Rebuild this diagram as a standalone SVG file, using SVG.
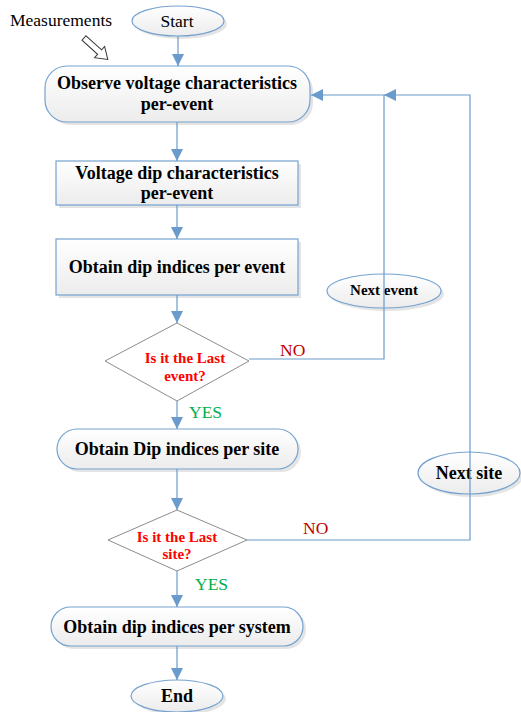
<svg xmlns="http://www.w3.org/2000/svg" width="521" height="712" viewBox="0 0 521 712">
<defs>
<linearGradient id="g" x1="0" y1="0" x2="0" y2="1">
<stop offset="0" stop-color="#ffffff"/>
<stop offset="1" stop-color="#ececec"/>
</linearGradient>
<marker id="ah" viewBox="0 0 12 12" refX="12" refY="6" markerWidth="12" markerHeight="12" markerUnits="userSpaceOnUse" orient="auto">
<path d="M0,0 L12,6 L0,12 Z" fill="#6a9bcc"/>
</marker>
<style>
.sh{fill:#d9d9d9;opacity:0.7}
.nd{fill:url(#g);stroke:#74a2d0;stroke-width:1.2}
.dm{fill:#ffffff;stroke:#8c8c8c;stroke-width:1}
.t{font-family:"Liberation Serif",serif;font-weight:bold;font-size:18px;fill:#000;text-anchor:middle}
.r{font-family:"Liberation Serif",serif;font-weight:bold;font-size:15px;fill:#ff0000;text-anchor:middle}
.no{font-family:"Liberation Serif",serif;font-size:17.5px;fill:#c00000}
.yes{font-family:"Liberation Serif",serif;font-size:17.5px;fill:#00b050}
.c{fill:none;stroke:#6a9bcc;stroke-width:1.2}
</style>
</defs>
<rect width="521" height="712" fill="#ffffff"/>

<g id="measurements">
<text x="10" y="26" style="font-family:'Liberation Serif',serif;font-size:17.5px;fill:#000">Measurements</text>
<polygon points="0,-3 21,-3 21,-7.5 32,0 21,7.5 21,3 0,3" transform="translate(84,38) rotate(42)" fill="#ffffff" stroke="#333" stroke-width="1"/>
</g>

<g id="start">
<ellipse cx="181" cy="24" rx="46" ry="15" class="sh"/>
<ellipse cx="178" cy="21" rx="46" ry="15" class="nd"/>
<text x="177" y="27" class="t" style="font-weight:normal;font-size:17.5px">Start</text>
</g>

<g id="observe">
<rect x="48" y="69" width="265" height="56" rx="22" class="sh"/>
<rect x="45" y="66" width="265" height="56" rx="22" class="nd"/>
<text x="177" y="89" class="t">Observe voltage characteristics</text>
<text x="177" y="110" class="t">per-event</text>
</g>

<g id="dipchar">
<rect x="59" y="164" width="242" height="44" class="sh"/>
<rect x="56" y="161" width="242" height="44" class="nd"/>
<text x="177" y="179" class="t">Voltage dip characteristics</text>
<text x="177" y="199" class="t">per-event</text>
</g>

<g id="dipevent">
<rect x="59" y="242" width="242" height="56" class="sh"/>
<rect x="56" y="239" width="242" height="56" class="nd"/>
<text x="177" y="273" class="t">Obtain dip indices per event</text>
</g>

<g id="lastevent">
<polygon points="177,323 249,361 177,401 105,361" class="dm"/>
<text x="185" y="363" class="r">Is it the Last</text>
<text x="185" y="381" class="r">event?</text>
</g>

<g id="nextevent">
<ellipse cx="387" cy="294" rx="57" ry="17" class="sh"/>
<ellipse cx="384" cy="291" rx="57" ry="17" class="nd"/>
<text x="384" y="295" class="r" style="fill:#000">Next event</text>
</g>

<g id="dipsite">
<rect x="60" y="432" width="241" height="40" rx="20" class="sh"/>
<rect x="57" y="429" width="241" height="40" rx="20" class="nd"/>
<text x="177" y="455" class="t">Obtain Dip indices per site</text>
</g>

<g id="nextsite">
<ellipse cx="472" cy="476" rx="51" ry="21" class="sh"/>
<ellipse cx="469" cy="473" rx="51" ry="21" class="nd"/>
<text x="469" y="479" class="t">Next site</text>
</g>

<g id="lastsite">
<polygon points="177,510 247,540 177,571 108,540" class="dm"/>
<text x="177" y="542" class="r">Is it the Last</text>
<text x="177" y="559" class="r">site?</text>
</g>

<g id="dipsystem">
<rect x="54" y="610" width="252" height="39" rx="19.5" class="sh"/>
<rect x="51" y="607" width="252" height="39" rx="19.5" class="nd"/>
<text x="177" y="633" class="t">Obtain dip indices per system</text>
</g>

<g id="end">
<ellipse cx="180" cy="699" rx="46" ry="16" class="sh"/>
<ellipse cx="177" cy="696" rx="46" ry="16" class="nd"/>
<text x="177" y="702" class="t">End</text>
</g>

<g id="connectors">
<path d="M178,36 V66" class="c" marker-end="url(#ah)"/>
<path d="M177,122 V161" class="c" marker-end="url(#ah)"/>
<path d="M177,205 V239" class="c" marker-end="url(#ah)"/>
<path d="M177,295 V323" class="c" marker-end="url(#ah)"/>
<path d="M177,401 V429" class="c" marker-end="url(#ah)"/>
<path d="M177,469 V510" class="c" marker-end="url(#ah)"/>
<path d="M177,571 V607" class="c" marker-end="url(#ah)"/>
<path d="M177,646 V680" class="c" marker-end="url(#ah)"/>
<path d="M249,359 H384 V274 V95 H311" class="c" marker-end="url(#ah)"/>
<path d="M247,540 H470 V452 V95 H384" class="c" marker-end="url(#ah)"/>
<text x="280" y="356" class="no">NO</text>
<text x="303" y="534" class="no">NO</text>
<text x="189" y="418" class="yes">YES</text>
<text x="195" y="590" class="yes">YES</text>
</g>
</svg>
